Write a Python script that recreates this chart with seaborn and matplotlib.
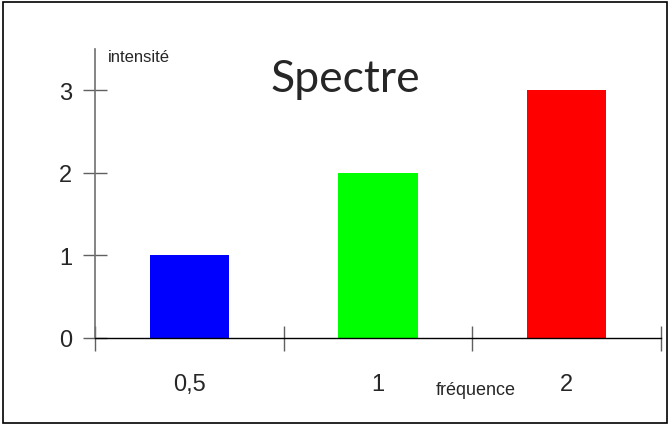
import matplotlib
matplotlib.use("Agg")
import matplotlib.pyplot as plt
from matplotlib.patches import Rectangle
import seaborn as sns
import pandas as pd

categories = ["0,5", "1", "2"]
values = [1, 2, 3]
colors = ["#0000FF", "#00FF00", "#FF0000"]

sns.set_style("white")
plt.rcParams['font.family'] = ['Liberation Sans', 'DejaVu Sans']

df = pd.DataFrame({"freq": categories, "intensite": values})

fig = plt.figure(figsize=(6.7, 4.27), dpi=100)
ax = fig.add_axes([95/670, 1-339/427, (661-95)/670, (339-50)/427])
sns.barplot(data=df, x="freq", y="intensite", hue="freq", palette=colors,
            order=categories, width=0.42, saturation=1, legend=False, ax=ax)
ax.set_xlim(-0.5, 2.5)
ax.set_ylim(0, 3.5)
ax.set_yticks([0, 1, 2, 3])
ax.set_yticklabels(["0", "1", "2", "3"])
ax.set_xticks([0, 1, 2])
ax.set_xticklabels(categories)
ax.set_xticks([-0.5, 0.5, 1.5, 2.5], minor=True)
ax.tick_params(axis="x", which="major", bottom=True, length=0, labelsize=17, pad=25)
ax.tick_params(axis="x", which="minor", bottom=True, length=18, direction="inout", color="#606060", width=1)
ax.tick_params(axis="y", which="major", left=True, length=17, direction="inout", color="#606060", width=1, labelsize=17, pad=8)
ax.set_xlabel("")
ax.set_ylabel("")
for s in ["top", "right"]:
    ax.spines[s].set_visible(False)
ax.spines["left"].set_color("#707070")
ax.spines["left"].set_linewidth(1.2)
ax.spines["bottom"].set_color("black")
ax.spines["bottom"].set_linewidth(1)
for p in ax.patches:
    p.set_edgecolor("none")

fig.text(108/670, 1-57/427, "intensité", fontsize=12, ha="left", va="center")
fig.text(476/670, 1-391/427, "fréquence", fontsize=13, ha="center", va="center")
fig.text(345/670, 1-80/427, "Spectre", fontsize=32, ha="center", va="center",
         family=["Lato", "DejaVu Sans"])

fig.patches.append(Rectangle((3/670, 3/427), 664/670, 421/427, transform=fig.transFigure,
                             fill=False, edgecolor="black", linewidth=1.2))

fig.savefig("out.png", dpi=100)
